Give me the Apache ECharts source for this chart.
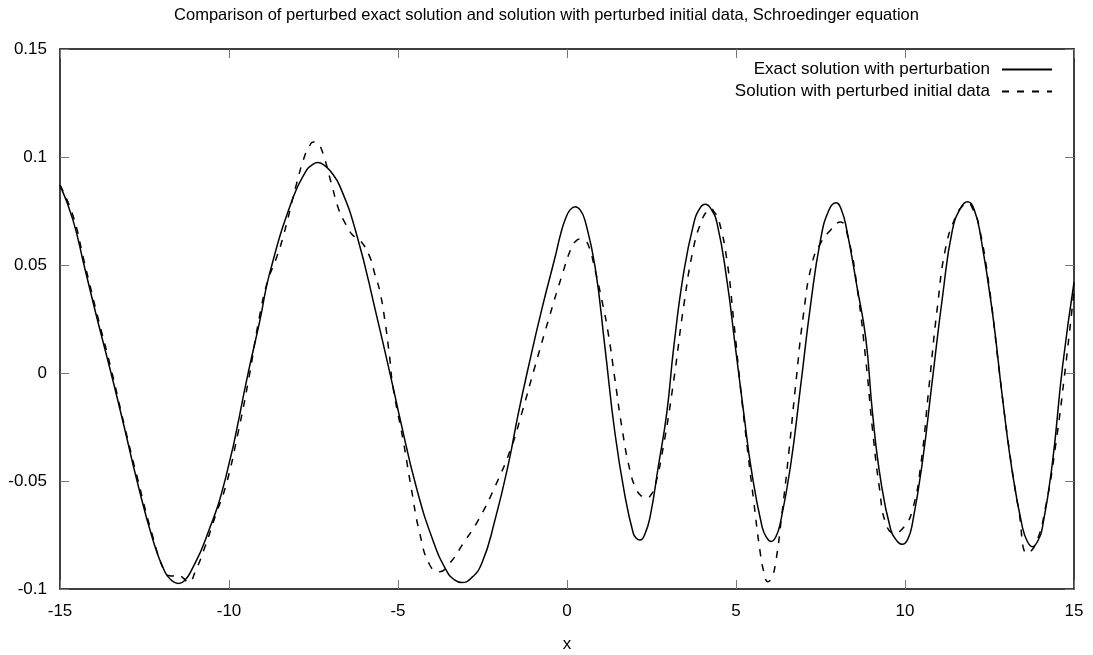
<!DOCTYPE html>
<html>
<head>
<meta charset="utf-8">
<script src="https://cdn.jsdelivr.net/npm/echarts@6/dist/echarts.min.js"></script>
<style>
html,body{margin:0;padding:0;background:#fff;}
#c{width:1093px;height:655px;}
</style>
</head>
<body>
<div id="c"></div>
<script>
const titleText = 'Comparison of perturbed exact solution and solution with perturbed initial data, Schroedinger equation';
const seriesNames = ['Exact solution with perturbation', 'Solution with perturbed initial data'];

const exactX = [-15.0,-14.62,-14.29,-13.9,-13.49,-13.1,-12.72,-12.25,-11.9,-11.7,-11.51,-11.3,-11.1,-10.7,-10.09,-9.42,-9.09,-8.8,-8.11,-7.7,-7.55,-7.37,-7.2,-7.0,-6.72,-6.23,-5.64,-5.1,-4.95,-4.46,-3.96,-3.57,-3.35,-3.12,-2.85,-2.52,-2.13,-1.73,-1.44,-1.14,-0.75,-0.35,-0.2,-0.06,0.09,0.24,0.39,0.53,0.83,1.12,1.42,1.72,1.96,2.05,2.16,2.3,2.46,2.7,2.95,3.16,3.45,3.75,3.93,4.09,4.25,4.44,4.73,4.98,5.23,5.47,5.77,5.9,6.04,6.18,6.31,6.61,6.91,7.2,7.5,7.75,7.96,8.12,8.28,8.58,8.84,9.04,9.28,9.58,9.75,9.92,10.08,10.22,10.51,10.81,11.11,11.4,11.65,11.85,12.05,12.24,12.59,12.88,13.18,13.47,13.62,13.77,13.92,14.07,14.36,14.66,15.0];
const exactY = [0.087,0.071,0.05,0.025,0.0,-0.025,-0.05,-0.0773,-0.092,-0.096,-0.0974,-0.0958,-0.091,-0.0773,-0.048,0.001,0.024,0.046,0.081,0.094,0.0962,0.0974,0.0964,0.0935,0.0865,0.0645,0.027,-0.0098,-0.0205,-0.0528,-0.0778,-0.0914,-0.0955,-0.097,-0.0952,-0.0881,-0.068,-0.0418,-0.0187,0.0029,0.0292,0.0538,0.0636,0.0708,0.0755,0.077,0.0755,0.0708,0.0492,0.0122,-0.028,-0.0573,-0.0742,-0.0765,-0.0773,-0.0748,-0.0665,-0.0434,-0.0187,0.0122,0.0462,0.0693,0.0762,0.0781,0.0762,0.0693,0.043,0.0122,-0.0187,-0.0464,-0.0711,-0.076,-0.078,-0.0758,-0.0696,-0.0434,-0.0063,0.0307,0.0616,0.0755,0.0788,0.0755,0.066,0.0399,0.016,-0.0187,-0.0495,-0.0727,-0.0775,-0.0793,-0.077,-0.0696,-0.0418,-0.0032,0.0353,0.066,0.0765,0.0793,0.0755,0.0631,0.0276,-0.011,-0.0464,-0.0711,-0.078,-0.0804,-0.078,-0.0711,-0.0418,0.0029,0.042];

const pertX = [-15.0,-14.62,-14.29,-13.9,-13.49,-13.1,-12.72,-12.25,-11.9,-11.7,-11.5,-11.35,-11.2,-11.0,-10.7,-10.4,-10.09,-9.75,-9.42,-9.1,-8.85,-8.65,-8.4,-8.0,-7.75,-7.62,-7.51,-7.38,-7.25,-6.97,-6.76,-6.56,-6.35,-6.13,-5.84,-5.69,-5.54,-5.39,-5.25,-5.15,-4.85,-4.6,-4.36,-4.06,-3.77,-3.47,-3.07,-2.62,-2.13,-1.64,-1.34,-0.95,-0.55,-0.16,0.14,0.26,0.38,0.5,0.63,0.83,1.03,1.22,1.42,1.62,1.86,2.06,2.22,2.36,2.48,2.6,2.85,3.16,3.45,3.75,3.99,4.12,4.24,4.36,4.49,4.73,4.93,5.13,5.33,5.52,5.72,5.84,5.94,6.05,6.17,6.36,6.56,6.76,7.0,7.25,7.5,7.79,8.09,8.33,8.58,8.84,9.04,9.25,9.43,9.68,9.98,10.22,10.46,10.71,10.96,11.21,11.5,11.68,11.85,12.02,12.19,12.49,12.78,13.08,13.37,13.62,13.87,14.16,14.46,14.75,15.0];
const pertY = [0.087,0.073,0.052,0.027,0.002,-0.024,-0.048,-0.076,-0.092,-0.094,-0.0935,-0.095,-0.097,-0.092,-0.08,-0.066,-0.052,-0.029,-0.003,0.026,0.043,0.051,0.063,0.0877,0.101,0.105,0.107,0.1062,0.103,0.0877,0.076,0.0693,0.064,0.0616,0.054,0.046,0.038,0.0245,0.0076,-0.0063,-0.031,-0.054,-0.074,-0.0889,-0.092,-0.0881,-0.0789,-0.068,-0.0526,-0.0341,-0.0187,0.0029,0.0245,0.0446,0.0585,0.061,0.062,0.0615,0.0593,0.0477,0.0338,0.0184,-0.0032,-0.0248,-0.0449,-0.0542,-0.0572,-0.058,-0.0565,-0.0526,-0.0341,-0.0032,0.0307,0.0585,0.0708,0.0745,0.0762,0.0745,0.0708,0.0523,0.0245,-0.0063,-0.0341,-0.0588,-0.0835,-0.093,-0.0966,-0.095,-0.0881,-0.065,-0.0372,-0.0063,0.0276,0.0508,0.06,0.066,0.0699,0.0616,0.0399,0.006,-0.0264,-0.054,-0.0696,-0.0742,-0.0711,-0.0634,-0.0434,-0.0063,0.0307,0.0585,0.0724,0.077,0.0786,0.0755,0.068,0.04,0.002,-0.035,-0.064,-0.0835,-0.079,-0.062,-0.033,0.003,0.038];

const xTicks = [-15, 15, 5];      // min, max, interval
const yTicks = [-0.1, 0.15, 0.05]; // min, max, interval
const xName = 'x';

const zip = (xs, ys) => xs.map((x, i) => [x, ys[i]]);
const FONT = 'Liberation Sans, Arial, sans-serif';

const chart = echarts.init(document.getElementById('c'), null, {renderer: 'canvas'});
const tickStyle = {show: true, inside: true, length: 9, lineStyle: {color: '#777', width: 1}};
const lineAx = {show: true, onZero: false, lineStyle: {color: '#000', width: 1.5}};
chart.setOption({
  animation: false,
  backgroundColor: '#fff',
  title: {
    text: titleText, left: 'center', top: 2,
    textStyle: {fontFamily: FONT, fontSize: 16.5, fontWeight: 'normal', color: '#000'}
  },
  legend: {
    orient: 'vertical', right: 35, top: 56, align: 'right',
    itemWidth: 50, itemHeight: 10, itemGap: 5,
    itemStyle: {opacity: 0},
    textStyle: {fontFamily: FONT, fontSize: 17, color: '#000', padding: [0, 7, 0, 0]},
    data: seriesNames.map(n => ({name: n}))
  },
  grid: {left: 60, right: 19, top: 49, bottom: 66, containLabel: false, outerBoundsMode: 'none'},
  xAxis: [{
    type: 'value', min: xTicks[0], max: xTicks[1], interval: xTicks[2],
    name: xName, nameLocation: 'middle', nameGap: 47,
    nameTextStyle: {fontFamily: FONT, fontSize: 17, color: '#000'},
    axisLine: lineAx, axisTick: tickStyle, splitLine: {show: false},
    axisLabel: {fontFamily: FONT, fontSize: 17, color: '#000', margin: 14}
  }, {
    type: 'value', position: 'top', min: xTicks[0], max: xTicks[1], interval: xTicks[2],
    axisLine: lineAx, axisTick: tickStyle, splitLine: {show: false}, axisLabel: {show: false}
  }],
  yAxis: [{
    type: 'value', min: yTicks[0], max: yTicks[1], interval: yTicks[2],
    axisLine: lineAx, axisTick: tickStyle, splitLine: {show: false},
    axisLabel: {fontFamily: FONT, fontSize: 17, color: '#000', margin: 13,
      formatter: v => String(+v.toFixed(2))}
  }, {
    type: 'value', position: 'right', min: yTicks[0], max: yTicks[1], interval: yTicks[2],
    axisLine: lineAx, axisTick: tickStyle, splitLine: {show: false}, axisLabel: {show: false}
  }],
  series: [{
    name: seriesNames[0], type: 'line', xAxisIndex: 0, yAxisIndex: 0,
    data: zip(exactX, exactY), smooth: 0.5, showSymbol: false, symbol: 'none',
    lineStyle: {color: '#000', width: 1.5, type: 'solid'}, itemStyle: {color: '#000'}
  }, {
    name: seriesNames[1], type: 'line', xAxisIndex: 0, yAxisIndex: 0,
    data: zip(pertX, pertY), smooth: 0.5, showSymbol: false, symbol: 'none',
    lineStyle: {color: '#000', width: 1.5, type: [7, 8]}, itemStyle: {color: '#000'}
  }]
});
</script>
</body>
</html>
